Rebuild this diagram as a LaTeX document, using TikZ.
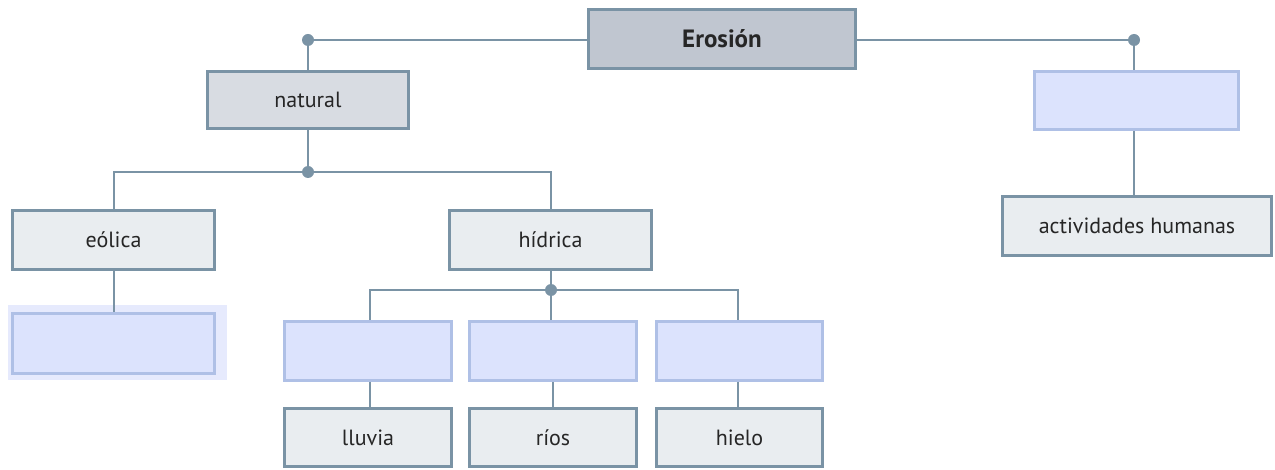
\documentclass[tikz,border=0pt]{standalone}
\usepackage{fontspec}
\setmainfont{PT Sans}
\definecolor{linec}{HTML}{7A93A5}
\definecolor{fillA}{HTML}{C0C6D0}
\definecolor{fillB}{HTML}{D8DCE2}
\definecolor{fillC}{HTML}{E9EDF0}
\definecolor{blueF}{HTML}{DCE3FD}
\definecolor{blueD}{HTML}{AFC0E6}
\definecolor{halo}{HTML}{E6EAFD}
\begin{document}
\begin{tikzpicture}[x=1pt,y=-1pt,
  base/.style={rectangle, line width=2.8pt, inner sep=0pt, font=\fontsize{22}{26}\selectfont, text=black!85},
  graybox/.style={base, draw=linec, fill=fillC},
  bluebox/.style={base, draw=blueD, fill=blueF},
  conn/.style={draw=linec, line width=2.8pt},
  dotc/.style={circle, fill=linec, inner sep=0pt, minimum size=12pt}]
\useasboundingbox (0,0) rectangle (1275,470);
% root
\node[base, draw=linec, fill=fillA, minimum width=267pt, minimum height=59pt, font=\fontsize{25}{30}\selectfont\bfseries] (ero) at (722,39) {Erosión};
\node[base, draw=linec, fill=fillB, minimum width=201pt, minimum height=57pt] (nat) at (308,100) {natural};
\node[bluebox, minimum width=204pt, minimum height=58pt] (hum) at (1136.5,100.5) {};
\node[graybox, minimum width=269pt, minimum height=59pt] (act) at (1137,226) {actividades humanas};
\node[graybox, minimum width=202pt, minimum height=59pt] (eol) at (113.5,240) {eólica};
\node[graybox, minimum width=202pt, minimum height=59pt] (hid) at (550.5,240) {hídrica};
\fill[halo] (8,305) rectangle (227,380);
\node[bluebox, minimum width=202pt, minimum height=60pt] (eolb) at (113.5,343.5) {};
\node[bluebox, minimum width=167pt, minimum height=59pt] (b1) at (368,351) {};
\node[bluebox, minimum width=167pt, minimum height=59pt] (b2) at (553,351) {};
\node[bluebox, minimum width=166pt, minimum height=59pt] (b3) at (739.5,351) {};
\node[graybox, minimum width=167pt, minimum height=58pt] (l1) at (368,437.5) {lluvia};
\node[graybox, minimum width=167pt, minimum height=58pt] (l2) at (553,437.5) {ríos};
\node[graybox, minimum width=166pt, minimum height=58pt] (l3) at (739.5,437.5) {hielo};
% junction dots
\node[dotc] (d1) at (308,40) {};
\node[dotc] (d2) at (1134,40) {};
\node[dotc] (d3) at (308,172) {};
\node[dotc] (d4) at (551,290) {};
% connectors
\draw[conn] (ero.west |- d1.center) -- (d1.center) -- (nat.north);
\draw[conn] (ero.east |- d2.center) -- (d2.center) -- (d2.center |- hum.north);
\draw[conn] (hum.south -| d2.center) -- (act.north -| d2.center);
\draw[conn] (nat.south) -- (d3.center);
\draw[conn] (eol.north -| 114,0) -- (114,172) -- (551,172) -- (hid.north -| 551,0);
\draw[conn] (eol.south -| 114,0) -- (eolb.north -| 114,0);
\draw[conn] (hid.south -| 551,0) -- (d4.center);
\draw[conn] (b1.north -| 370,0) -- (370,290) -- (738,290) -- (b3.north -| 738,0);
\draw[conn] (d4.center) -- (b2.north -| d4.center);
\draw[conn] (b1.south -| 370,0) -- (l1.north -| 370,0);
\draw[conn] (b2.south -| 553,0) -- (l2.north -| 553,0);
\draw[conn] (b3.south -| 738,0) -- (l3.north -| 738,0);
\end{tikzpicture}
\end{document}
